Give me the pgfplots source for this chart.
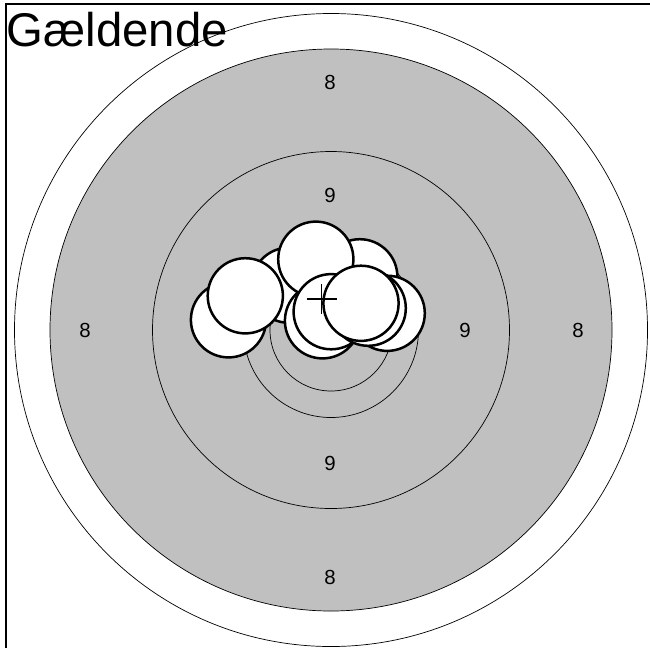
\documentclass[border=0pt]{standalone}
\usepackage{pgfplots}
\pgfplotsset{compat=1.18}
\usepackage{fontspec}
\setmainfont{Liberation Sans}
\definecolor{tgray}{RGB}{192,192,192}
\begin{document}
\begin{tikzpicture}
\begin{axis}[
 width=650bp, height=648bp, scale only axis,
 xmin=0, xmax=650, ymin=0, ymax=648, y dir=reverse,
 hide axis, clip=false, clip marker paths=true,
]
% target rings (centre 331,330)
\addplot[only marks, mark=o, mark size=316.5bp, mark options={draw=black, line width=0.7bp}] coordinates {(331,330)};
\addplot[only marks, mark=*, mark size=281bp, mark options={fill=tgray, draw=black, line width=0.7bp}] coordinates {(331,330)};
\addplot[only marks, mark=*, mark size=178.5bp, mark options={fill=tgray, draw=black, line width=0.7bp}] coordinates {(331,330)};
\addplot[only marks, mark=*, mark size=87.5bp, mark options={fill=tgray, draw=black, line width=0.7bp}] coordinates {(331,330)};
\addplot[only marks, mark=*, mark size=61bp, mark options={fill=tgray, draw=black, line width=0.7bp}] coordinates {(331,330)};
% ring numbers
\node[font=\fontsize{20.5}{20.5}\selectfont, inner sep=0pt] at (axis cs:330,82) {8};
\node[font=\fontsize{20.5}{20.5}\selectfont, inner sep=0pt] at (axis cs:85,330) {8};
\node[font=\fontsize{20.5}{20.5}\selectfont, inner sep=0pt] at (axis cs:578,330) {8};
\node[font=\fontsize{20.5}{20.5}\selectfont, inner sep=0pt] at (axis cs:330,577) {8};
\node[font=\fontsize{20.5}{20.5}\selectfont, inner sep=0pt] at (axis cs:330,195) {9};
\node[font=\fontsize{20.5}{20.5}\selectfont, inner sep=0pt] at (axis cs:465,330) {9};
\node[font=\fontsize{20.5}{20.5}\selectfont, inner sep=0pt] at (axis cs:330,463) {9};
% shots, back to front
\addplot[only marks, mark=*, mark size=37.6bp, mark options={fill=white, draw=black, line width=2.5bp}] coordinates {
(228.5,319.8)
(289,285.2)
(359.8,276.8)
(387.2,313.3)
(322.5,320.8)
(315.8,259.2)
(245.3,295.8)
(331.2,311.7)
(368.2,308.2)
(361,303.3)
};
% group centre
\addplot[only marks, mark=+, mark size=15bp, mark options={draw=black, line width=1.3bp}] coordinates {(321.7,299)};
% title
\node[font=\fontsize{47.5}{47.5}\selectfont, anchor=base west, inner sep=0pt] at (axis cs:6.5,47) {Gældende};
% frame (top and left)
\draw[line width=2bp] (axis cs:5.5,648) -- (axis cs:5.5,4.5) -- (axis cs:650,4.5);
\end{axis}
\pgfresetboundingbox
\path (current axis.south west) rectangle (current axis.north east);
\end{tikzpicture}
\end{document}
